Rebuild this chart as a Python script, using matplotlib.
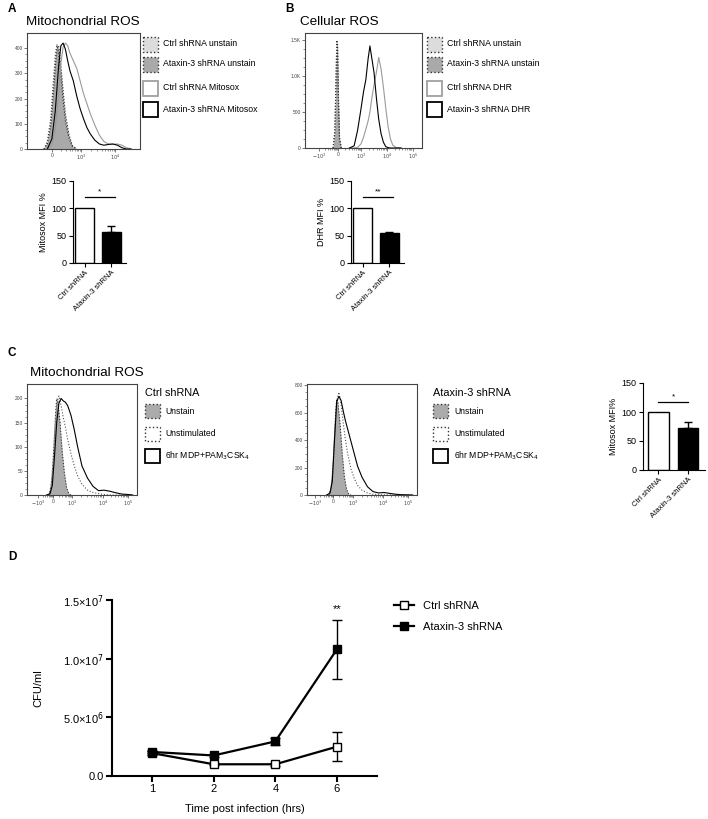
import matplotlib.pyplot as plt
import numpy as np
from matplotlib.patches import Rectangle

plt.rcParams["font.family"] = ["Liberation Sans", "DejaVu Sans"]

W, H = 708, 819

# ---- A: mitochondrial ROS histogram (x = % of axis width)
a_x = [18, 22, 25, 28, 30, 32, 34, 36, 38, 41, 44, 47, 50, 53, 56, 60, 64, 68, 72, 76, 80, 84, 88, 92]
a_ataxin_mito = [0, 40, 150, 330, 410, 420, 395, 350, 310, 270, 210, 160, 120, 85, 60, 35, 20, 15, 18, 20, 15, 5, 0, 0]
a_ctrl_mito = [0, 15, 80, 220, 340, 405, 420, 410, 380, 350, 320, 270, 220, 180, 140, 95, 55, 30, 20, 18, 20, 15, 5, 0]
a_xu = [15, 18, 21, 23, 25, 26.5, 28, 30, 32, 34, 37, 40, 44]
a_ctrl_unst = [0, 20, 90, 200, 320, 400, 410, 330, 230, 140, 60, 15, 0]
a_ataxin_unst = [0, 30, 120, 250, 370, 415, 380, 290, 190, 110, 45, 10, 0]

# ---- B: cellular ROS histogram
b_xu = [24, 25.5, 26.5, 27.2, 27.8, 28.5, 29.5, 31]
b_ctrl_unst = [0, 200, 900, 1480, 1450, 800, 150, 0]
b_ataxin_unst = [0, 250, 1000, 1500, 1400, 700, 120, 0]
b_x = [38, 42, 45, 48, 50, 52, 54, 55.5, 57, 59, 61, 63, 65, 67, 69, 71, 73, 75, 78, 82]
b_ataxin_dhr = [0, 30, 250, 560, 780, 950, 1250, 1420, 1260, 1050, 700, 400, 200, 80, 20, 5, 0, 0, 0, 0]
b_ctrl_dhr = [0, 0, 10, 60, 150, 260, 380, 500, 680, 880, 1050, 1260, 1100, 850, 560, 300, 130, 40, 5, 0]

# ---- C: mitochondrial ROS after stimulation
c_xu = [20, 22, 24, 26, 27, 28, 30, 32, 34, 36, 38, 40]
c_xs = [18, 21, 23, 25, 27, 29, 31, 33, 35, 37, 40, 43, 46, 50, 55, 60, 65, 70, 75, 80, 86, 92, 96]
c1_unst = [0, 20, 80, 170, 200, 195, 150, 90, 45, 15, 3, 0]
c1_unstim = [0, 5, 40, 120, 190, 205, 185, 160, 140, 115, 85, 60, 40, 22, 10, 5, 3, 1, 0, 0, 0, 0, 0]
c1_stim = [0, 3, 20, 80, 150, 190, 200, 195, 192, 185, 165, 135, 100, 60, 35, 18, 9, 10, 8, 5, 2, 1, 0]
c2_unst = [0, 60, 250, 600, 700, 680, 520, 300, 130, 40, 5, 0]
c2_unstim = [0, 20, 120, 420, 690, 750, 660, 520, 400, 300, 190, 120, 70, 35, 15, 6, 2, 0, 0, 0, 0, 0, 0]
c2_stim = [0, 15, 100, 400, 680, 720, 690, 610, 540, 480, 390, 300, 210, 130, 60, 25, 15, 18, 12, 6, 2, 1, 0]

# ---- bar charts
bar_labels = ["Ctrl shRNA", "Ataxin-3 shRNA"]
a_bar, a_err = [100, 57], [0, 11]
b_bar, b_err = [100, 55], [0, 1.5]
c_bar, c_err = [100, 73], [0, 10]

# ---- D: CFU over time
d_times = ["1", "2", "4", "6"]
d_ctrl = [1.95e6, 1.0e6, 1.0e6, 2.5e6]
d_ctrl_err = [0.15e6, 0.1e6, 0.15e6, 1.25e6]
d_ataxin = [2.05e6, 1.75e6, 2.95e6, 1.08e7]
d_ataxin_err = [0.1e6, 0.1e6, 0.3e6, 2.5e6]

fig = plt.figure(figsize=(W / 100, H / 100), dpi=100)


def px_axes(left, top, right, bottom, **kw):
    return fig.add_axes([left / W, 1 - bottom / H, (right - left) / W, (bottom - top) / H], **kw)


def ftext(x, y, s, **kw):
    fig.text(x / W, 1 - y / H, s, **kw)


def hist_style(ax, xt, xl, yt, yl, ymax):
    ax.set_xlim(0, 100)
    ax.set_ylim(0, ymax)
    for s in ax.spines.values():
        s.set_linewidth(0.8)
        s.set_color("#444444")
    ax.set_xticks(xt, xl)
    ax.set_yticks(yt, yl)
    # log-style minor ticks between the decade ticks
    minor = []
    for p0, p1 in zip(xt[:-1], xt[1:]):
        minor += list(p0 + (p1 - p0) * np.log10(np.arange(2, 10)))
    ax.set_xticks(minor, minor=True)
    ax.set_yticks(np.linspace(0, yt[-1], 4 * (len(yt) - 1) + 1), minor=True)
    ax.tick_params(labelsize=3.5, length=2, width=0.5, pad=1, colors="#444444")
    ax.tick_params(which="minor", length=1.2, width=0.4, colors="#444444")


def unstain(ax, x, y, face):
    ax.fill_between(x, y, color=face, lw=0)
    ax.plot(x, y, ls=":", color="#333333", lw=0.8)


def bar_panel(ax, vals, errs, ylabel, star, span, sig_y, xlim):
    ax.bar([0, 1], vals, width=0.7, color=["white", "black"], edgecolor="black", lw=1)
    ax.errorbar([1], [vals[1]], yerr=[[0], [errs[1]]], fmt="none", ecolor="black",
                capsize=3, elinewidth=1, capthick=1)
    ax.plot(span, [sig_y, sig_y], color="black", lw=0.9)
    ax.text(np.mean(span), sig_y + 3, star, ha="center", va="bottom", fontsize=6)
    ax.set_xlim(*xlim)
    ax.set_ylim(0, 150)
    ax.set_yticks([0, 50, 100, 150])
    ax.set_xticks([0, 1], bar_labels, rotation=45, ha="right", rotation_mode="anchor")
    ax.spines[["top", "right"]].set_visible(False)
    ax.tick_params(labelsize=6.5, length=3, width=0.8, pad=1.5)
    ax.tick_params(axis="x", labelsize=5.5)
    ax.set_ylabel(ylabel, fontsize=6.5, labelpad=3)


# ---------- panel A
ax = px_axes(27, 33, 140, 149)
unstain(ax, a_xu, a_ctrl_unst, "#dcdcdc")
unstain(ax, a_xu, a_ataxin_unst, "#a9a9a9")
ax.plot(a_x, a_ctrl_mito, color="#9a9a9a", lw=0.8)
ax.plot(a_x, a_ataxin_mito, color="black", lw=0.8)
hist_style(ax, [22, 48, 78], ["0", "$10^3$", "$10^4$"], [0, 100, 200, 300, 400],
           ["0", "100", "200", "300", "400"], 460)

ax = px_axes(73, 181, 126, 263)
bar_panel(ax, a_bar, a_err, "Mitosox MFI %", "*", [0.0, 1.13], 120, (-0.43, 1.54))

# ---------- panel B
ax = px_axes(305, 33, 422, 148)
unstain(ax, b_xu, b_ctrl_unst, "#dcdcdc")
unstain(ax, b_xu, b_ataxin_unst, "#a9a9a9")
ax.plot(b_x, b_ctrl_dhr, color="#9a9a9a", lw=0.8)
ax.plot(b_x, b_ataxin_dhr, color="black", lw=0.8)
hist_style(ax, [12, 28, 48, 70, 92], ["$-10^3$", "0", "$10^3$", "$10^4$", "$10^5$"],
           [0, 500, 1000, 1500], ["0", "500", "1.0K", "1.5K"], 1600)

ax = px_axes(351, 181, 404, 263)
bar_panel(ax, b_bar, b_err, "DHR MFI %", "**", [0.0, 1.13], 120, (-0.43, 1.54))

# ---------- panel C
ax = px_axes(27, 384, 137, 495)
unstain(ax, c_xu, c1_unst, "#ababab")
ax.plot(c_xs, c1_unstim, color="#555555", ls=":", lw=0.8)
ax.plot(c_xs, c1_stim, color="black", lw=0.8)
hist_style(ax, [10, 24, 41, 69, 92], ["$-10^3$", "0", "$10^3$", "$10^4$", "$10^5$"],
           [0, 50, 100, 150, 200], ["0", "50", "100", "150", "200"], 230)

ax = px_axes(307, 384, 417, 495)
unstain(ax, c_xu, c2_unst, "#ababab")
ax.plot(c_xs, c2_unstim, color="#555555", ls=":", lw=0.8)
ax.plot(c_xs, c2_stim, color="black", lw=0.8)
hist_style(ax, [7, 24, 42, 69, 92], ["$-10^3$", "0", "$10^3$", "$10^4$", "$10^5$"],
           [0, 200, 400, 600, 800], ["0", "200", "400", "600", "800"], 810)

ax = px_axes(643, 383, 705, 470)
bar_panel(ax, c_bar, c_err, "Mitosox MFI%", "*", [0.0, 1.0], 117, (-0.525, 1.58))

# ---------- panel D
ax = px_axes(112, 600, 377, 776)
xs = np.arange(len(d_times))
ax.errorbar(xs, d_ctrl, yerr=d_ctrl_err, fmt="none", ecolor="black", capsize=3.5, elinewidth=1)
ax.errorbar(xs, d_ataxin, yerr=d_ataxin_err, fmt="none", ecolor="black", capsize=3.5, elinewidth=1)
l1, = ax.plot(xs, d_ctrl, color="black", lw=1.6, marker="s", ms=5.5, mfc="white", mec="black",
              mew=1, label="Ctrl shRNA")
l2, = ax.plot(xs, d_ataxin, color="black", lw=1.6, marker="s", ms=5.5, mfc="black", mec="black",
              label="Ataxin-3 shRNA")
ax.text(3, 1.42e7, "**", ha="center", va="center", fontsize=8)
ax.set_xlim(-0.65, 3.65)
ax.set_ylim(0, 1.5e7)
ax.set_xticks(xs, d_times)
ax.set_yticks([0, 5e6, 1e7, 1.5e7],
              ["0.0", r"5.0×10$^6$", r"1.0×10$^7$", r"1.5×10$^7$"])
ax.spines[["top", "right"]].set_visible(False)
for s in ["left", "bottom"]:
    ax.spines[s].set_linewidth(1.5)
ax.tick_params(labelsize=8, length=4, width=1.5, pad=2)
ax.set_xlabel("Time post infection (hrs)", fontsize=8, labelpad=7)
ax.set_ylabel("CFU/ml", fontsize=8, labelpad=14)
ax.legend(handles=[l1, l2], loc="upper left", bbox_to_anchor=(394 / W, 1 - 601 / H),
          bbox_transform=fig.transFigure, frameon=False, fontsize=8, handlelength=1.8,
          labelspacing=1.0, borderaxespad=0, borderpad=0, handletextpad=0.8)

# ---------- legends, titles and letters drawn in pixel space
ov = px_axes(0, 0, W, H, zorder=-1)
ov.set_xlim(0, W)
ov.set_ylim(H, 0)
ov.axis("off")

unst_styles = [("#dcdcdc", "#333333", ":", 1.0), ("#a9a9a9", "#333333", ":", 1.0),
               ("white", "#a0a0a0", "-", 1.3), ("white", "black", "-", 1.3)]
for px0, tx0, names in [(143, 163, ["Ctrl shRNA unstain", "Ataxin-3 shRNA unstain",
                                     "Ctrl shRNA Mitosox", "Ataxin-3 shRNA Mitosox"]),
                        (427, 447, ["Ctrl shRNA unstain", "Ataxin-3 shRNA unstain",
                                     "Ctrl shRNA DHR", "Ataxin-3 shRNA DHR"])]:
    for yc, name, (fc, ec, ls, lw) in zip([44, 64, 88, 109], names, unst_styles):
        ov.add_patch(Rectangle((px0, yc - 7.5), 15, 15, facecolor=fc, edgecolor=ec, ls=ls, lw=lw))
        ov.text(tx0, yc, name, fontsize=6.3, va="center", ha="left")

c_styles = [("#ababab", "#333333", ":", 1.0), ("white", "#333333", ":", 1.0),
            ("white", "black", "-", 1.3)]
c_names = ["Unstain", "Unstimulated", r"6hr MDP+PAM$_3$CSK$_4$"]
for px0, tx0, head in [(145, 165, "Ctrl shRNA"), (433, 454, "Ataxin-3 shRNA")]:
    ov.text(px0, 393, head, fontsize=7.8, va="center", ha="left")
    for yc, name, (fc, ec, ls, lw) in zip([411, 434, 456], c_names, c_styles):
        ov.add_patch(Rectangle((px0, yc - 7), 15, 14, facecolor=fc, edgecolor=ec, ls=ls, lw=lw))
        ov.text(tx0, yc, name, fontsize=6.2, va="center", ha="left")

ftext(26, 22, "Mitochondrial ROS", fontsize=9.7, va="center")
ftext(300, 22, "Cellular ROS", fontsize=9.7, va="center")
ftext(30, 373, "Mitochondrial ROS", fontsize=9.7, va="center")
for x, y, s in [(8, 9, "A"), (285, 9, "B"), (8, 353, "C"), (8, 557, "D")]:
    ftext(x, y, s, fontsize=8.5, fontweight="bold", va="center")

fig.savefig("out.png", dpi=100)
